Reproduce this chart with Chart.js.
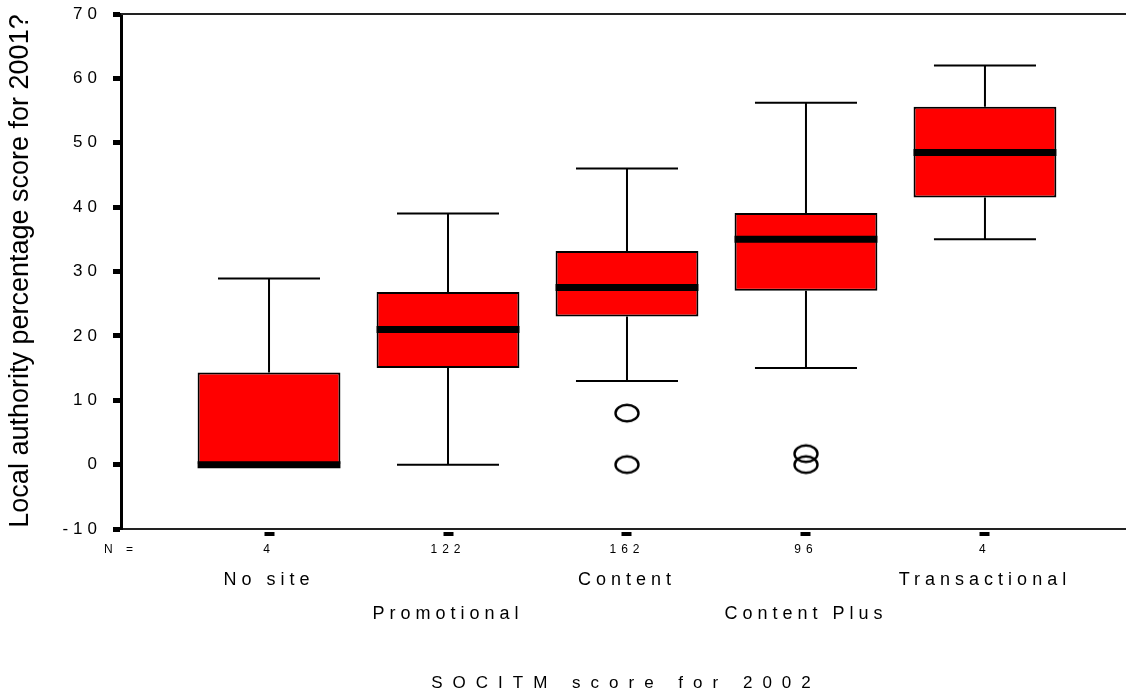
<!DOCTYPE html>
<html>
<head>
<meta charset="utf-8">
<script src="https://cdn.jsdelivr.net/npm/chart.js@4.4.1/dist/chart.umd.min.js"></script>
<style>
  html, body { margin: 0; background: #fff; overflow: hidden; }
  #wrap { width: 1137px; height: 691px; }
</style>
</head>
<body>
<div id="wrap"><canvas id="c"></canvas></div>
<script>
// values
const categories = ['No site', 'Promotional', 'Content', 'Content Plus', 'Transactional'];
const counts = ['4', '122', '162', '96', '4'];
const whiskerLow = [0, 0, 13, 15, 35];
const q1 = [0, 15, 23, 27, 41.5];
const medians = [0, 21, 27.5, 35, 48.5];
const q3 = [14.3, 26.8, 33.2, 39.1, 55.6];
const whiskerHigh = [28.9, 39, 46, 56.2, 62];
const outliers = [[], [], [8, 0], [1.7, 0], []];
const yTicks = [-10, 0, 10, 20, 30, 40, 50, 60, 70];

const positions = categories.map((_, i) => i + 1);
const X_MIN = 0.173, X_MAX = 5.788;
const FONT = "'Liberation Sans', Arial, sans-serif";

// open ellipse used for the outlier marks
const ring = document.createElement('canvas');
ring.width = 28; ring.height = 22;
(() => {
  const g = ring.getContext('2d');
  g.lineWidth = 2.4;
  g.strokeStyle = '#000';
  g.beginPath();
  g.ellipse(14, 11, 11.5, 8.2, 0, 0, Math.PI * 2);
  g.stroke();
})();

const boxData = positions.map((x, i) => ({ x, y: [q1[i], q3[i]] }));
const outlierData = [];
outliers.forEach((list, i) => list.forEach(v => outlierData.push({ x: positions[i], y: v })));

const whiskers = {
  id: 'whiskers',
  beforeDatasetsDraw(chart) {
    const { ctx, scales: { x, y } } = chart;
    ctx.save();
    ctx.strokeStyle = '#000';
    ctx.lineWidth = 2;
    positions.forEach((p, i) => {
      const px = x.getPixelForValue(p);
      const c0 = x.getPixelForValue(p - 0.285), c1 = x.getPixelForValue(p + 0.285);
      ctx.beginPath();
      ctx.moveTo(px, y.getPixelForValue(q3[i]));
      ctx.lineTo(px, y.getPixelForValue(whiskerHigh[i]));
      ctx.moveTo(c0, y.getPixelForValue(whiskerHigh[i]));
      ctx.lineTo(c1, y.getPixelForValue(whiskerHigh[i]));
      if (whiskerLow[i] < q1[i]) {
        ctx.moveTo(px, y.getPixelForValue(q1[i]));
        ctx.lineTo(px, y.getPixelForValue(whiskerLow[i]));
        ctx.moveTo(c0, y.getPixelForValue(whiskerLow[i]));
        ctx.lineTo(c1, y.getPixelForValue(whiskerLow[i]));
      }
      ctx.stroke();
    });
    ctx.restore();
  },
  afterDatasetsDraw(chart) {
    const { ctx, scales: { y } } = chart;
    const bars = chart.getDatasetMeta(0).data;
    ctx.save();
    ctx.strokeStyle = '#000';
    ctx.lineWidth = 7;
    bars.forEach((b, i) => {
      const py = y.getPixelForValue(medians[i]);
      ctx.beginPath();
      ctx.moveTo(b.x - b.width / 2, py);
      ctx.lineTo(b.x + b.width / 2, py);
      ctx.stroke();
    });
    ctx.restore();
  }
};

const frameAndTitles = {
  id: 'frameAndTitles',
  beforeDraw(chart) { chart.ctx.letterSpacing = '5px'; },
  afterDraw(chart) {
    const { ctx, chartArea } = chart;
    ctx.save();
    ctx.strokeStyle = '#222';
    ctx.lineWidth = 2;
    ctx.beginPath();
    ctx.moveTo(chartArea.left, chartArea.top);
    ctx.lineTo(chartArea.right, chartArea.top);
    ctx.stroke();

    ctx.fillStyle = '#000';
    ctx.textBaseline = 'middle';
    ctx.textAlign = 'center';
    ctx.letterSpacing = '0px';
    ctx.font = '27px ' + FONT;
    ctx.translate(21, 271);
    ctx.rotate(-Math.PI / 2);
    ctx.fillText('Local authority percentage score for 2001?', 0, 0);
    ctx.restore();

    ctx.save();
    ctx.fillStyle = '#000';
    ctx.textBaseline = 'middle';
    ctx.textAlign = 'center';
    ctx.letterSpacing = '10px';
    ctx.font = '17px ' + FONT;
    ctx.fillText('SOCITM score for 2002', 626, 683);
    ctx.restore();
    chart.ctx.letterSpacing = '0px';
  }
};

new Chart(document.getElementById('c'), {
  type: 'bar',
  data: {
    datasets: [
      {
        type: 'bar',
        data: boxData,
        backgroundColor: '#ff0000',
        borderColor: '#000',
        borderWidth: 2,
        borderSkipped: false,
        categoryPercentage: 1,
        // the bar ruler also counts the "N =" tick, so the spacing it sees is min..1
        barPercentage: 0.965
      },
      {
        type: 'scatter',
        data: outlierData,
        pointStyle: ring,
        pointRadius: 10,
        showLine: false
      }
    ]
  },
  plugins: [whiskers, frameAndTitles],
  options: {
    responsive: true,
    maintainAspectRatio: false,
    animation: false,
    events: [],
    layout: { padding: { top: 14, right: 0, bottom: 32, left: 0 } },
    plugins: { legend: { display: false }, tooltip: { enabled: false } },
    scales: {
      x: {
        type: 'linear',
        position: 'bottom',
        offset: false,
        min: X_MIN,
        max: X_MAX,
        weight: 0,
        afterBuildTicks: s => { s.ticks = [{ value: X_MIN }].concat(positions.map(v => ({ value: v }))); },
        afterFit: s => { s.height = 30; },
        grid: {
          offset: false,
          drawOnChartArea: false,
          tickLength: 7,
          tickWidth: 10,
          tickBorderDash: [0, 2, 5, 100],
          tickColor: c => (c.tick && c.tick.value < 1 ? 'rgba(0,0,0,0)' : '#000')
        },
        border: { color: '#222', width: 2 },
        ticks: {
          autoSkip: false,
          maxRotation: 0,
          padding: 6,
          color: '#000',
          font: { family: FONT, size: 12 },
          callback: (v, i) => (i === 0 ? 'N =' : counts[i - 1])
        }
      },
      x2: {
        type: 'linear',
        position: 'bottom',
        offset: false,
        min: X_MIN,
        max: X_MAX,
        weight: 1,
        afterBuildTicks: s => { s.ticks = positions.map(v => ({ value: v })); },
        afterFit: s => { s.height = 100; },
        grid: { display: false, drawTicks: false, offset: false },
        border: { display: false },
        ticks: {
          autoSkip: false,
          maxRotation: 0,
          padding: 4,
          color: '#000',
          font: { family: FONT, size: 18, lineHeight: 1.9 },
          callback: (v, i) => (i % 2 === 0 ? [categories[i]] : ['', categories[i]])
        }
      },
      y: {
        min: -10,
        max: 70,
        afterBuildTicks: s => { s.ticks = yTicks.map(v => ({ value: v })); },
        afterFit: s => { s.width = 121; },
        grid: { drawOnChartArea: false, tickLength: 8, tickWidth: 5, tickColor: '#000' },
        border: { color: '#000', width: 3 },
        ticks: {
          padding: 11,
          color: '#000',
          font: { family: FONT, size: 17, lineHeight: 0.3 }
        }
      }
    }
  }
});
</script>
</body>
</html>
